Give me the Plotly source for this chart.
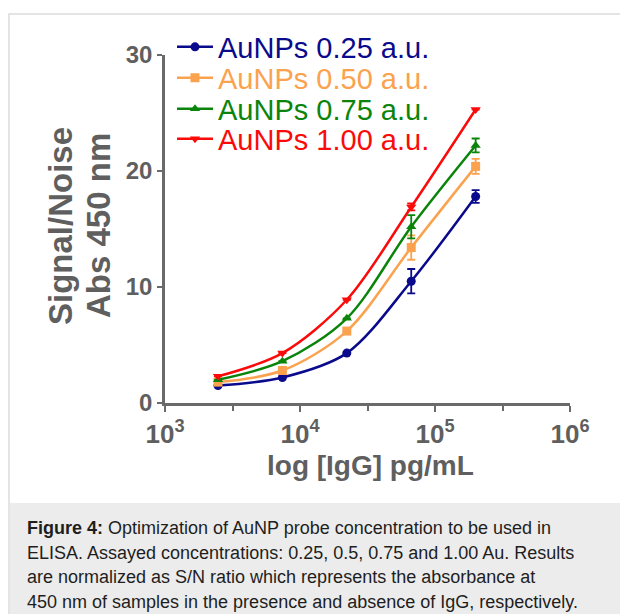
import plotly.graph_objects as go

# ---- data ----
conc = [2469, 7407, 22222, 66667, 200000]  # IgG pg/mL (3-fold dilutions)
labels = ["AuNPs 0.25 a.u.", "AuNPs 0.50 a.u.", "AuNPs 0.75 a.u.", "AuNPs 1.00 a.u."]
y_025 = [1.5, 2.2, 4.3, 10.5, 17.8]
y_050 = [1.8, 2.8, 6.2, 13.4, 20.4]
y_075 = [2.0, 3.6, 7.3, 15.2, 22.2]
y_100 = [2.3, 4.3, 8.9, 16.9, 25.3]
e_025 = [None, None, None, 1.05, 0.55]
e_050 = [None, None, None, 1.05, 0.65]
e_075 = [None, None, None, 1.0, 0.6]
e_100 = [None, None, None, 0.3, None]
colors = ["#0a0a8c", "#fba24e", "#0b840b", "#fb0a0a"]
symbols = ["circle", "square", "triangle-up", "triangle-down"]
series = [y_025, y_050, y_075, y_100]
errors = [e_025, e_050, e_075, e_100]

x_tickvals = [1e3, 1e4, 1e5, 1e6]
x_ticktext = ["10<sup>3</sup>", "10<sup>4</sup>", "10<sup>5</sup>", "10<sup>6</sup>"]
x_minor = [10**3.5, 10**4.5, 10**5.5]
y_tickvals = [0, 10, 20, 30]

y_title_lines = ["Signal/Noise", "Abs 450 nm"]
x_title = "log [IgG] pg/mL"
caption_lines = [
    "<b>Figure 4:</b> Optimization of AuNP probe concentration to be used in",
    "ELISA. Assayed concentrations: 0.25, 0.5, 0.75 and 1.00 Au. Results",
    "are normalized as S/N ratio which represents the absorbance at",
    "450 nm of samples in the presence and absence of IgG, respectively.",
]

# ---- layout geometry ----
W, H = 620, 614
L, R, T, B = 165, 50, 55, 211
PW, PH = W - L - R, H - T - B

def px(x):
    return (x - L) / PW

def py(y):
    return (H - B - y) / PH

FONT = "Liberation Sans, Arial, sans-serif"
GREY = "#5f5f5f"
AX = "#6a6a6a"

legend_rows = [47, 78, 109, 139]
legend_names = ["legend", "legend2", "legend3", "legend4"]

fig = go.Figure()
for ys, es, c, s, name, lg in zip(series, errors, colors, symbols, labels, legend_names):
    fig.add_trace(go.Scatter(
        x=conc, y=ys, mode="lines+markers",
        name=f'<span style="color:{c}">{name}</span>',
        legend=lg,
        line=dict(color=c, width=2.5, shape="spline", smoothing=0.9),
        marker=dict(color=c, symbol=s, size=9),
        error_y=dict(type="data", array=es, color=c, thickness=1.8, width=4, visible=True),
    ))

shapes = [
    dict(type="rect", xref="paper", yref="paper", x0=px(9), x1=px(640), y0=py(640), y1=py(14),
         line=dict(color="#dcdcdc", width=1.5), fillcolor="white", layer="below"),
    dict(type="rect", xref="paper", yref="paper", x0=px(10), x1=px(640), y0=py(640), y1=py(503),
         line=dict(width=0), fillcolor="#ececec", layer="below"),
]

annotations = []
for i, line in enumerate(caption_lines):
    annotations.append(dict(
        xref="paper", yref="paper", x=px(25), y=py(528 + 24.6 * i),
        xanchor="left", yanchor="middle", text=line, showarrow=False,
        font=dict(family=FONT, size=18, color="#1e1e1e"),
    ))
for xc, t in zip([60, 98], y_title_lines):
    annotations.append(dict(
        xref="paper", yref="paper", x=px(xc), y=py(226),
        xanchor="center", yanchor="middle", textangle=-90, text=f"<b>{t}</b>", showarrow=False,
        font=dict(family=FONT, size=33, color=GREY),
    ))
annotations.append(dict(
    xref="paper", yref="paper", x=px(370), y=py(465),
    xanchor="center", yanchor="middle", text=f"<b>{x_title}</b>", showarrow=False,
    font=dict(family=FONT, size=28, color=GREY),
))

legends = {}
for lg, yr in zip(legend_names, legend_rows):
    legends[lg] = dict(x=px(172), y=py(yr), xanchor="left", yanchor="middle",
                       font=dict(family=FONT, size=29), bgcolor="rgba(0,0,0,0)",
                       itemwidth=36, borderwidth=0)

fig.update_layout(
    width=W, height=H,
    margin=dict(l=L, r=R, t=T, b=B),
    paper_bgcolor="white", plot_bgcolor="white",
    shapes=shapes, annotations=annotations,
    showlegend=True,
    **legends,
    xaxis=dict(
        type="log", range=[3, 6],
        tickvals=x_tickvals, ticktext=x_ticktext,
        ticks="outside", ticklen=6, tickwidth=2, tickcolor=AX,
        showline=True, linecolor=AX, linewidth=2.5,
        showgrid=False, zeroline=False,
        tickfont=dict(family=FONT, size=26, color=GREY, weight="bold"),
        minor=dict(tickvals=x_minor, ticks="outside", ticklen=5, tickwidth=2, tickcolor=AX, showgrid=False),
    ),
    yaxis=dict(
        range=[0, 30], tickvals=y_tickvals,
        ticks="outside", ticklen=5, tickwidth=2, tickcolor=AX,
        showline=True, linecolor=AX, linewidth=2.5,
        showgrid=False, zeroline=False,
        tickfont=dict(family=FONT, size=24, color=GREY, weight="bold"),
    ),
)

fig.write_html(
    "out.html",
    config={"displayModeBar": False},
    post_script="document.body.style.margin='0';document.body.style.overflow='hidden';"
                "document.documentElement.style.overflow='hidden';",
)
